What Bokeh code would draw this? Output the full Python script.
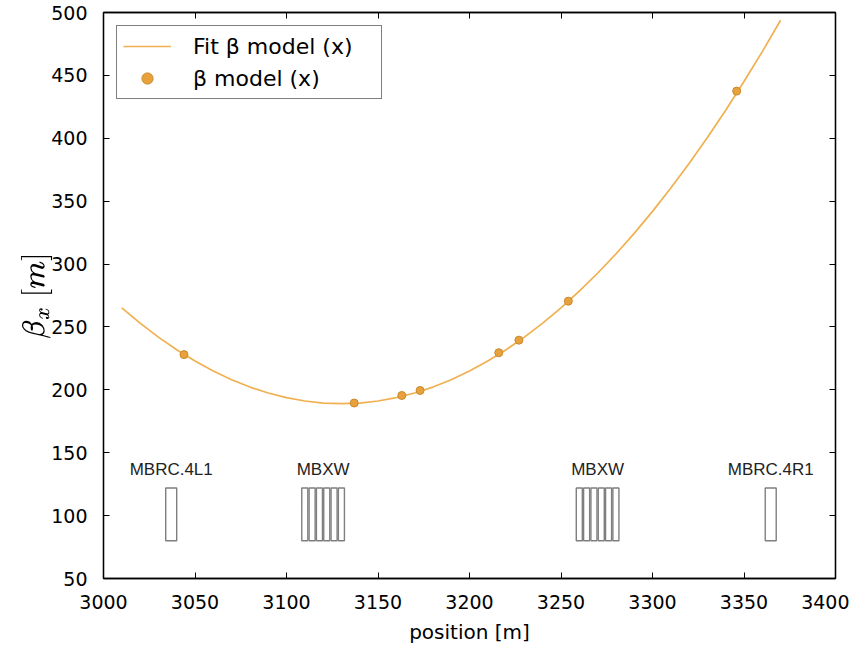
from bokeh.plotting import figure
from bokeh.models import (Range1d, LinearAxis, SingleIntervalTicker, Legend, LegendItem,
                          ColumnDataSource, CustomJSTickFormatter)
from bokeh.embed import file_html
from bokeh.resources import INLINE
from bokeh.core.properties import value

# ---- data ----
fit_pos = [3010, 3020, 3030, 3040, 3050, 3060, 3070, 3080, 3090, 3100,
           3110, 3120, 3130, 3140, 3150, 3160, 3170, 3180, 3190, 3200,
           3210, 3220, 3230, 3240, 3250, 3260, 3270, 3280, 3290, 3300,
           3310, 3320, 3330, 3340, 3350, 3360, 3370]
fit_beta = [265.2, 253.0, 241.9, 231.9, 222.9, 214.9, 208.0, 202.2, 197.5, 193.8,
            191.1, 189.5, 189.0, 189.5, 191.1, 193.8, 197.5, 202.2, 208.0, 214.9,
            222.9, 231.9, 241.9, 253.0, 265.2, 278.4, 292.7, 308.0, 324.4, 341.9,
            360.4, 380.0, 400.6, 422.3, 445.1, 468.9, 493.8]

meas_pos = [3044, 3137, 3163, 3173, 3216, 3227, 3254, 3346]
meas_beta = [228.0, 189.5, 195.5, 199.5, 229.5, 239.5, 270.5, 437.5]

magnet_center = [3037,
                 3110, 3114, 3118, 3122, 3126, 3130,
                 3260, 3264, 3268, 3272, 3276, 3280,
                 3364.6]
magnet_length = [6.0,
                 3.3, 3.3, 3.3, 3.3, 3.3, 3.3,
                 3.3, 3.3, 3.3, 3.3, 3.3, 3.3,
                 6.0]
magnet_bottom = 80
magnet_top = 122

label_names = ["MBRC.4L1", "MBXW", "MBXW", "MBRC.4R1"]
label_pos = [3037, 3120, 3270, 3364.6]

# ---- styles ----
LINE_COLOR = "#F0B050"
PT_FILL = "#E9A23B"
PT_EDGE = "#C8892E"
TICK_FONT = "DejaVu Sans"

p = figure(frame_width=732, frame_height=566,
           x_range=Range1d(3000, 3400), y_range=Range1d(50, 500),
           output_backend="svg", toolbar_location=None,
           min_border_left=103, min_border_top=12, min_border_right=14, min_border_bottom=52)

p.background_fill_color = "white"
p.border_fill_color = "white"
p.outline_line_color = "black"
p.outline_line_width = 1.3
p.xgrid.visible = False
p.ygrid.visible = False

fit_r = p.line(fit_pos, fit_beta, line_color=LINE_COLOR, line_width=1.7)
pt_r = p.scatter(meas_pos, meas_beta, size=8, fill_color=PT_FILL,
                 line_color=PT_EDGE, line_width=1)

msrc = ColumnDataSource(dict(
    left=[c - l / 2 for c, l in zip(magnet_center, magnet_length)],
    right=[c + l / 2 for c, l in zip(magnet_center, magnet_length)],
    bottom=[magnet_bottom] * len(magnet_center),
    top=[magnet_top] * len(magnet_center)))
p.quad(left="left", right="right", bottom="bottom", top="top", source=msrc,
       fill_color=None, line_color="#7f7f7f", line_width=1.4)

lsrc = ColumnDataSource(dict(x=label_pos, y=[magnet_top + 14.5] * len(label_pos), t=label_names))
p.text(x="x", y="y", text="t", source=lsrc, text_align="center", text_baseline="alphabetic",
       text_font=value("Liberation Sans"), text_font_size="17px", text_color="#222222")


def style_axis(ax, show_labels):
    ax.ticker = SingleIntervalTicker(interval=50)
    ax.major_tick_in = 6
    ax.major_tick_out = 0
    ax.minor_tick_line_color = None
    ax.major_tick_line_color = "black"
    ax.major_tick_line_width = 1
    ax.axis_line_color = "black"
    ax.axis_line_width = 1.3
    if show_labels:
        ax.major_label_text_font = TICK_FONT
        ax.major_label_text_font_size = "19px"
        ax.major_label_text_color = "black"
    else:
        ax.formatter = CustomJSTickFormatter(code="return ''")
        ax.major_label_standoff = 0


style_axis(p.xaxis[0], True)
style_axis(p.yaxis[0], True)
p.xaxis[0].major_label_standoff = 12
p.yaxis[0].major_label_standoff = 12
p.xaxis[0].axis_label = "position [m]"
p.xaxis[0].axis_label_text_font = TICK_FONT
p.xaxis[0].axis_label_text_font_size = "20px"
p.xaxis[0].axis_label_text_font_style = "normal"
p.xaxis[0].axis_label_text_color = "black"
p.xaxis[0].axis_label_standoff = 8
p.yaxis[0].axis_label = r"$$\beta_x\ [m]$$"
p.yaxis[0].axis_label_text_font_size = "26px"
p.yaxis[0].axis_label_text_color = "black"
p.yaxis[0].axis_label_standoff = -4

top_ax = LinearAxis()
right_ax = LinearAxis()
style_axis(top_ax, False)
style_axis(right_ax, False)
p.add_layout(top_ax, "above")
p.add_layout(right_ax, "right")

legend = Legend(items=[LegendItem(label="Fit β model (x)", renderers=[fit_r]),
                       LegendItem(label="β model (x)", renderers=[pt_r])],
                location="top_left")
legend.label_text_font = TICK_FONT
legend.label_text_font_size = "22px"
legend.label_text_color = "black"
legend.glyph_width = 48
legend.glyph_height = 28
legend.label_height = 28
legend.label_width = 182
legend.label_standoff = 22
legend.spacing = 4
legend.padding = 6
legend.margin = 13
legend.border_line_color = "black"
legend.border_line_width = 1.6
legend.background_fill_alpha = 1
p.add_layout(legend)

open("out.html", "w").write(file_html(p, INLINE))
